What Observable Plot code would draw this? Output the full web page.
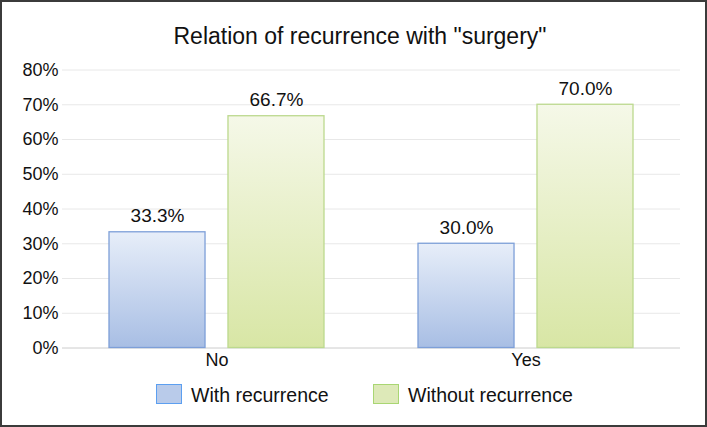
<!DOCTYPE html>
<html>
<head>
<meta charset="utf-8">
<script src="https://cdn.jsdelivr.net/npm/d3@7"></script>
<script src="https://cdn.jsdelivr.net/npm/@observablehq/plot@0.6"></script>
<style>
  html, body { margin: 0; padding: 0; background: #fff; }
  #wrap { position: relative; width: 707px; height: 427px; overflow: hidden; font-family: 'Liberation Sans', Arial, Helvetica, sans-serif; color: #111; }
  #frame { position: absolute; left: 0; top: 0; width: 707px; height: 427px; box-sizing: border-box; border: 2px solid #3b3b3b; pointer-events: none; }
  #title { position: absolute; left: 0; width: 720px; top: 23px; text-align: center; font-size: 23px; line-height: 26px; white-space: nowrap; }
  #chart { position: absolute; left: 0; top: 55px; }
  .leg-sw { position: absolute; width: 24px; height: 18px; border: 1.5px solid; }
  .leg-tx { position: absolute; font-size: 19.5px; line-height: 22px; white-space: nowrap; }
</style>
</head>
<body>
<div id="wrap">
  <div id="title">Relation of recurrence with "surgery"</div>
  <div id="chart"></div>
  <div class="leg-sw" style="left:156px; top:384px; background:#b9cbea; border-color:#5c9ff0;"></div>
  <div class="leg-tx" id="leg1" style="left:191px; top:384px;"></div>
  <div class="leg-sw" style="left:373px; top:384px; background:#dde9b8; border-color:#a9d673;"></div>
  <div class="leg-tx" id="leg2" style="left:408px; top:384px;"></div>
  <div id="frame"></div>
</div>
<script>
const categories = ["No", "Yes"];
const series = ["With recurrence", "Without recurrence"];
const withRecurrence = [33.3, 30.0];
const withoutRecurrence = [66.7, 70.0];
const yTicks = [0, 10, 20, 30, 40, 50, 60, 70, 80];

const data = [];
categories.forEach((c, i) => {
  data.push({category: c, series: series[0], value: withRecurrence[i]});
  data.push({category: c, series: series[1], value: withoutRecurrence[i]});
});

document.getElementById("leg1").textContent = series[0];
document.getElementById("leg2").textContent = series[1];

const font = "'Liberation Sans', Arial, Helvetica, sans-serif";

const plot = Plot.plot({
  width: 707,
  height: 330,
  marginLeft: 62,
  marginRight: 27,
  marginTop: 14.5,
  marginBottom: 37.5,
  style: {fontFamily: font, color: "#111", background: "transparent"},
  fx: {domain: categories, padding: 0, label: null},
  x: {domain: series, axis: null, paddingInner: 0.193, paddingOuter: 0.395, round: false},
  y: {domain: [0, 80], label: null},
  marks: [
    Plot.gridY(yTicks, {stroke: "#e8e8e8", strokeOpacity: 1, strokeWidth: 1}),
    Plot.ruleY([0], {stroke: "#d8d8d8", strokeWidth: 1}),
    Plot.barY(data.filter(d => d.series === series[0]), {fx: "category", x: "series", y: "value", fill: "url(#gradBlue)", stroke: "#7d9fd8", strokeWidth: 1.3}),
    Plot.barY(data.filter(d => d.series === series[1]), {fx: "category", x: "series", y: "value", fill: "url(#gradGreen)", stroke: "#bcd98e", strokeWidth: 1.3}),
    Plot.text(data, {fx: "category", x: "series", y: "value", text: d => d.value.toFixed(1) + "%", lineAnchor: "bottom", dy: -10, fontSize: 19, fill: "#111"}),
    Plot.axisY(yTicks, {tickSize: 0, tickPadding: 4, fontSize: 18, tickFormat: d => d + "%", label: null}),
    Plot.axisFx({anchor: "bottom", tickSize: 0, tickPadding: 5, fontSize: 18, label: null})
  ]
});

const svg = d3.select(plot);
const defs = svg.insert("defs", ":first-child");
const g1 = defs.append("linearGradient").attr("id", "gradBlue").attr("x1", 0).attr("y1", 0).attr("x2", 0).attr("y2", 1);
g1.append("stop").attr("offset", "0%").attr("stop-color", "#e7eef9");
g1.append("stop").attr("offset", "100%").attr("stop-color", "#a8bee4");
const g2 = defs.append("linearGradient").attr("id", "gradGreen").attr("x1", 0).attr("y1", 0).attr("x2", 0).attr("y2", 1);
g2.append("stop").attr("offset", "0%").attr("stop-color", "#f5f8e8");
g2.append("stop").attr("offset", "100%").attr("stop-color", "#d8e6a5");

document.getElementById("chart").appendChild(plot);
</script>
</body>
</html>
